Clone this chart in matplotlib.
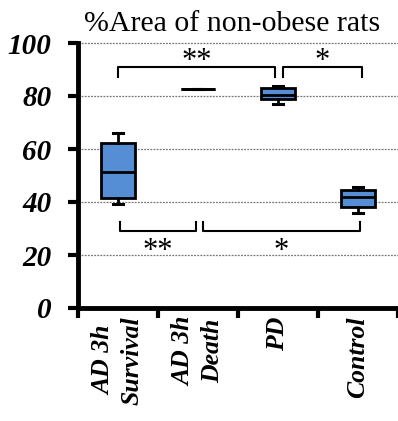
import matplotlib.pyplot as plt
from matplotlib.transforms import ScaledTranslation

# Box summary values
groups = ["AD 3h\nSurvival", "AD 3h\nDeath", "PD", "Control"]
whislo = [39.1, 82.8, 77.0, 36.0]
q1 = [41.6, 82.8, 78.8, 38.0]
med = [51.4, 82.8, 80.4, 41.9]
q3 = [62.4, 82.8, 82.9, 44.4]
whishi = [66.0, 82.8, 83.8, 45.8]
yticks = [0, 20, 40, 60, 80, 100]

# significance brackets: (x1, x2, y, label, above)
brackets = [
    (1.0, 2.96, 91.1, "**", True),
    (3.06, 4.05, 91.1, "*", True),
    (1.02, 1.98, 29.2, "**", False),
    (2.06, 4.02, 29.2, "*", False),
]

plt.rcParams['font.family'] = ['Liberation Serif', 'DejaVu Serif']

fig = plt.figure(figsize=(3.98, 4.21), dpi=100)
ax = fig.add_axes([78 / 398, 1 - 308 / 421, 320 / 398, 265 / 421])

stats = []
for i in range(len(groups)):
    stats.append(dict(whislo=whislo[i], q1=q1[i], med=med[i], q3=q3[i],
                      whishi=whishi[i], fliers=[]))

positions = list(range(1, len(groups) + 1))
ax.bxp(stats, positions=positions, widths=0.42, capwidths=0.13,
       patch_artist=True, showfliers=False,
       boxprops=dict(facecolor="#558ed5", edgecolor="black", linewidth=2),
       medianprops=dict(color="black", linewidth=2),
       whiskerprops=dict(color="black", linewidth=2),
       capprops=dict(color="black", linewidth=2.2))

for y in yticks[1:]:
    ax.axhline(y, color="#777777", linestyle=(0, (1.5, 1)), linewidth=0.9,
               zorder=0, clip_on=False)

for x1, x2, y, label, above in brackets:
    d = -3.8 if above else 3.1
    ax.plot([x1, x1, x2, x2], [y + d, y, y, y + d], color="black",
            linewidth=1.5)
    ty = y - 0.8 if above else y - 10.8
    ax.text((x1 + x2) / 2, ty, label, ha="center",
            va="baseline", fontsize=22)

ax.set_xlim(0.5, 4.5)
ax.set_ylim(0, 100)
ax.set_yticks(yticks)
ax.set_yticklabels([str(v) for v in yticks], fontsize=21,
                   fontweight="bold", fontstyle="italic")
ax.set_xticks([0.5, 1.5, 2.5, 3.5, 4.5])
ax.set_xticklabels([])
ax.set_xticks(positions, minor=True)
ax.set_xticklabels(groups, minor=True, rotation=90, fontsize=18.5,
                   fontweight="bold", fontstyle="italic",
                   linespacing=1.3, va="top", ha="center")
shift = ScaledTranslation(3 / 100, 0, fig.dpi_scale_trans)
for lab in ax.get_xticklabels(minor=True):
    lab.set_transform(lab.get_transform() + shift)
ax.tick_params(axis="x", which="minor", length=0, pad=6)
ax.tick_params(axis="both", which="major", width=3, length=7,
               direction="out")
ax.tick_params(axis="y", pad=12)

for side in ["top", "right"]:
    ax.spines[side].set_visible(False)
for side in ["left", "bottom"]:
    ax.spines[side].set_linewidth(3.5)

fig.text(232 / 398, 1 - 24 / 421, "%Area of non-obese rats", ha="center",
         va="center", fontsize=21.5)

fig.savefig("out.png", dpi=100)
